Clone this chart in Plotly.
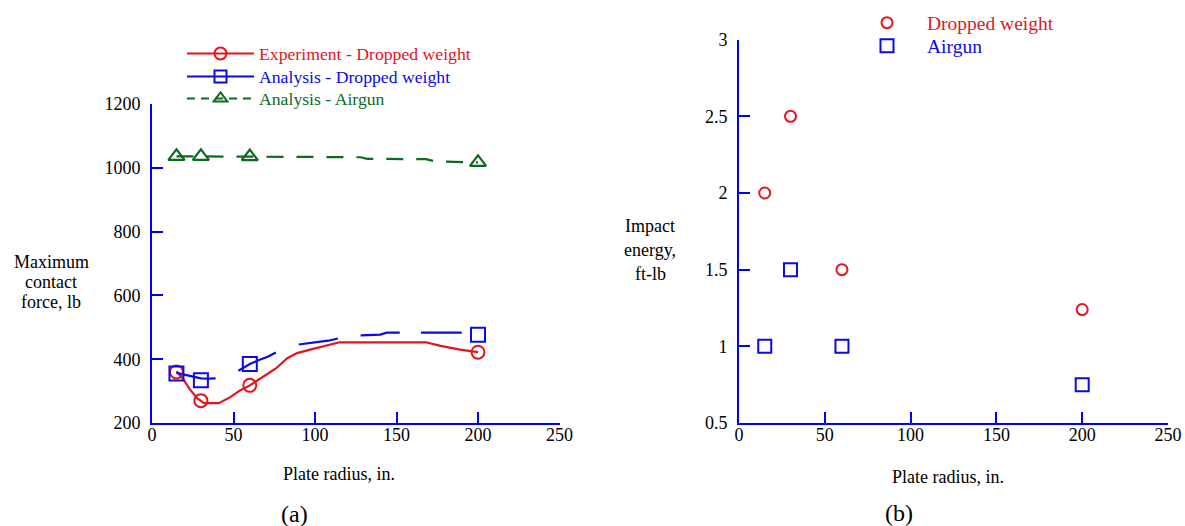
import plotly.graph_objects as go

# canvas size (browser window); page body margin is removed so the figure fills it exactly
W, H = 1185, 526

# ---------------- Panel (a) data ----------------
marker_radius = [15, 30, 60, 200]
exp_dropped_force = [360, 270, 318, 422]
ana_dropped_force = [355, 334, 385, 477]
ana_airgun_force = [1036, 1036, 1035, 1017]

exp_curve_radius = [15, 19, 23, 28, 32, 41, 48, 54, 60, 68, 76, 83, 89, 97, 107, 115, 168, 177, 189, 200]
exp_curve_force = [362, 339, 307, 276, 262, 262, 281, 302, 318, 344, 371, 403, 419, 430, 443, 453, 453, 442, 430, 422]

ana_curve_radius = [15, 22, 30, 35, 39, None, 53, 60, 66, 71, 76, None, 90, 100, 108, 114,
                    None, 128, 140, 144, 152, None, 165, 190]
ana_curve_force = [357, 350, 340, 339, 340, None, 364, 385, 398, 408, 421, None, 446, 452, 458, 465,
                   None, 475, 477, 483, 483, None, 483, 483]

air_curve_radius = [15, 30, 60, 100, 128, 132, 168, 174, 200]
air_curve_force = [1036, 1036, 1035, 1034, 1033, 1028, 1027, 1020, 1017]

# ---------------- Panel (b) data ----------------
energy_radius = [15, 30, 60, 200]
energy_dropped = [2.0, 2.5, 1.5, 1.24]
energy_airgun = [1.0, 1.5, 1.0, 0.75]

x_ticks = [0, 50, 100, 150, 200, 250]
force_ticks = [200, 400, 600, 800, 1000, 1200]
energy_ticks = [0.5, 1, 1.5, 2, 2.5, 3]

RED = "#e3141b"
BLUE = "#0a0ae6"
GREEN = "#0b6b1f"
AXIS = "#0000ff"
FONT = "Liberation Serif"


def px(xp):
    return xp / W


def py(yp):
    return 1 - yp / H


fig = go.Figure()

# --- panel (a) curves ---
fig.add_trace(go.Scatter(x=exp_curve_radius, y=exp_curve_force, mode="lines",
                         line=dict(color=RED, width=2.2), showlegend=False,
                         xaxis="x", yaxis="y"))
fig.add_trace(go.Scatter(x=ana_curve_radius, y=ana_curve_force, mode="lines",
                         line=dict(color=BLUE, width=2.2), connectgaps=False,
                         showlegend=False, xaxis="x", yaxis="y"))
fig.add_trace(go.Scatter(x=air_curve_radius, y=air_curve_force, mode="lines",
                         line=dict(color=GREEN, width=2.2, dash="17px,13px"),
                         showlegend=False, xaxis="x", yaxis="y"))
# --- panel (a) markers ---
fig.add_trace(go.Scatter(x=marker_radius, y=exp_dropped_force, mode="markers",
                         marker=dict(symbol="circle-open", size=13, color=RED, line=dict(width=2)),
                         showlegend=False, xaxis="x", yaxis="y"))
fig.add_trace(go.Scatter(x=marker_radius, y=ana_dropped_force, mode="markers",
                         marker=dict(symbol="square-open", size=14, color=BLUE, line=dict(width=2)),
                         showlegend=False, xaxis="x", yaxis="y"))
fig.add_trace(go.Scatter(x=marker_radius, y=ana_airgun_force, mode="markers",
                         marker=dict(symbol="triangle-up-open", size=14, color=GREEN, line=dict(width=2.2)),
                         showlegend=False, xaxis="x", yaxis="y"))

# --- legend entries for panel (a): one legend per row ---
leg_a = [
    ("Experiment - Dropped weight", RED, "circle-open", "solid", "legend", 54),
    ("Analysis - Dropped weight", BLUE, "square-open", "solid", "legend2", 77),
    ("Analysis - Airgun", GREEN, "triangle-up-open", "8px,6px", "legend3", 99),
]
legend_layout = {}
for name, col, sym, dash, lg, yrow in leg_a:
    fig.add_trace(go.Scatter(x=[None], y=[None], mode="lines+markers",
                             name=f"<span style='color:{col}'>{name}</span>",
                             line=dict(color=col, width=2, dash=dash),
                             marker=dict(symbol=sym, size=12, color=col, line=dict(width=2)),
                             legend=lg, xaxis="x", yaxis="y"))
    legend_layout[lg] = dict(x=px(182), y=py(yrow), xanchor="left", yanchor="middle",
                             bgcolor="rgba(0,0,0,0)", font=dict(family=FONT, size=17.7),
                             itemwidth=67)

# --- panel (b) ---
leg_b = [
    ("Dropped weight", RED, "circle-open", 11, energy_dropped, "legend4", 23),
    ("Airgun", BLUE, "square-open", 13, energy_airgun, "legend5", 46),
]
for name, col, sym, size, vals, lg, yrow in leg_b:
    fig.add_trace(go.Scatter(x=energy_radius, y=vals, mode="markers",
                             name=f"<span style='color:{col}'>{name}</span>",
                             marker=dict(symbol=sym, size=size, color=col, line=dict(width=2)),
                             legend=lg, xaxis="x2", yaxis="y2"))
    legend_layout[lg] = dict(x=px(847), y=py(yrow), xanchor="left", yanchor="middle",
                             bgcolor="rgba(0,0,0,0)", font=dict(family=FONT, size=19.5),
                             itemwidth=70)

axis_common = dict(showline=True, linecolor=AXIS, linewidth=2, ticks="inside", ticklen=11,
                   tickwidth=2, tickcolor=AXIS, showgrid=False, zeroline=False, automargin=False,
                   tickfont=dict(family=FONT, size=18, color="black"), mirror=False)

fig.update_layout(
    width=W, height=H, margin=dict(l=0, r=0, t=0, b=0),
    paper_bgcolor="white", plot_bgcolor="white",
    font=dict(family=FONT, size=17, color="black"),
    xaxis=dict(domain=[px(152), px(559.5)], range=[0, 250], tickvals=x_ticks,
               anchor="y", ticklabelstandoff=-6, **axis_common),
    yaxis=dict(domain=[py(423), py(104)], range=[200, 1200], tickvals=force_ticks,
               anchor="x", ticklabelstandoff=6, **axis_common),
    xaxis2=dict(domain=[px(739), px(1168)], range=[0, 250], tickvals=x_ticks,
                anchor="y2", ticklabelstandoff=-6, **axis_common),
    yaxis2=dict(domain=[py(423), py(39.7)], range=[0.5, 3], tickvals=energy_ticks,
                anchor="x2", ticklabelstandoff=6, **axis_common),
    **legend_layout,
)

ann = []


def text(t, x, y, size=18):
    ann.append(dict(text=t, x=px(x), y=py(y), xref="paper", yref="paper", showarrow=False,
                    xanchor="center", yanchor="middle", font=dict(family=FONT, size=size, color="black")))


text("Plate radius, in.", 339, 474)
text("Plate radius, in.", 948, 477)
text("(a)", 294, 514, 24)
text("(b)", 899, 513, 24)
for t, y in [("Maximum", 262), ("contact", 282), ("force, lb", 302)]:
    text(t, 51, y)
for t, y in [("Impact", 226), ("energy,", 250), ("ft-lb", 274)]:
    text(t, 650, y)
fig.update_layout(annotations=ann)

fig.write_html("out.html",
               config={"displayModeBar": False},
               post_script="document.body.style.margin='0px'; document.body.style.overflow='hidden';")
